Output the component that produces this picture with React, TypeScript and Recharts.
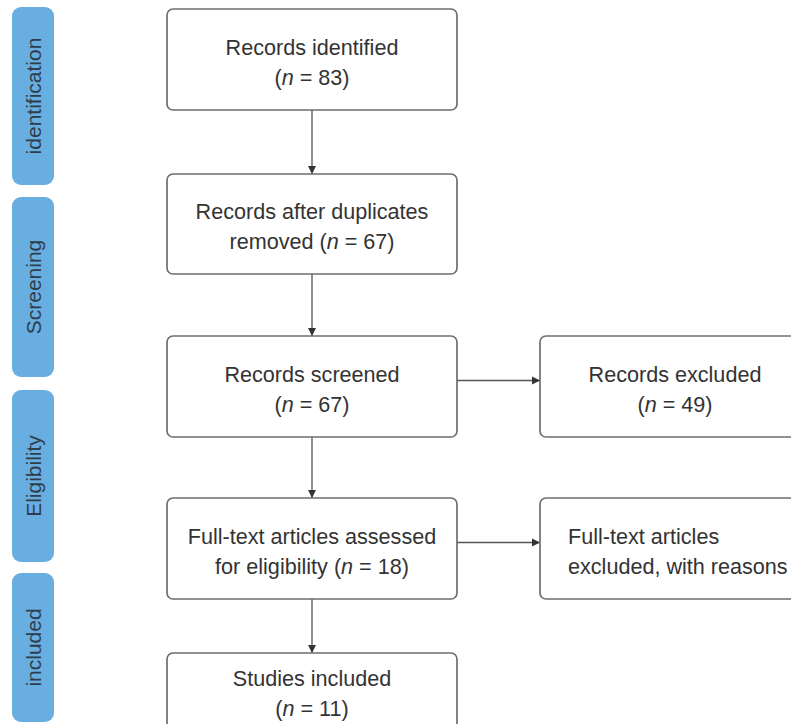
import { Scatter, ScatterChart, XAxis, YAxis } from "recharts";

// flow steps (PRISMA)
const stages = ["identification", "Screening", "Eligibility", "included"];
const mainSteps = [
  "Records identified",
  "Records after duplicates",
  "Records screened",
  "Full-text articles assessed",
  "Studies included",
];
const mainSuffix = ["", "removed ", "", "for eligibility ", ""];
const mainCounts = [83, 67, 67, 18, 11];
const excludedSteps = ["Records excluded", "Full-text articles"];
const excludedSuffix = ["", "excluded, with reasons"];
const excludedCounts: (number | null)[] = [49, null];
const excludedFrom = [2, 3];

// layout (pixels)
const W = 791;
const H = 724;
const FONT = "'Liberation Sans', Arial, Helvetica, sans-serif";
const MAIN_CX = 312;
const MAIN_W = 290;
const SIDE_CX = 33;
const SIDE_W = 42;
const EXCL_LEFT = 540;
const EXCL_W = 270;
const rowTops = [9, 174, 336, 498, 653];
const rowHeights = [101, 100, 101, 101, 75];
const stageSpans = [
  [7, 185],
  [197, 377],
  [390, 562],
  [573, 722],
];

const mainBoxes = mainSteps.map((label, i) => ({
  x: MAIN_CX,
  y: rowTops[i] + rowHeights[i] / 2,
  w: MAIN_W,
  h: rowHeights[i],
  label,
  suffix: mainSuffix[i],
  count: mainCounts[i],
  align: "middle",
}));

const excludedBoxes = excludedSteps.map((label, i) => {
  const from = excludedFrom[i];
  return {
    x: EXCL_LEFT + EXCL_W / 2,
    y: rowTops[from] + rowHeights[from] / 2,
    w: EXCL_W,
    h: rowHeights[from],
    label,
    suffix: excludedSuffix[i],
    count: excludedCounts[i],
    align: i === 1 ? "start" : "middle",
  };
});

const stageBars = stages.map((label, i) => ({
  x: SIDE_CX,
  y: (stageSpans[i][0] + stageSpans[i][1]) / 2,
  h: stageSpans[i][1] - stageSpans[i][0],
  label,
}));

const arrows = [
  ...mainSteps.slice(1).map((_, i) => [
    { x: MAIN_CX, y: rowTops[i] + rowHeights[i] },
    { x: MAIN_CX, y: rowTops[i + 1], head: "down" },
  ]),
  ...excludedFrom.map((from) => {
    const y = rowTops[from] + rowHeights[from] / 2 - 6;
    return [
      { x: MAIN_CX + MAIN_W / 2, y },
      { x: EXCL_LEFT, y, head: "right" },
    ];
  }),
];

const BoxShape = (props: any) => {
  const { cx, cy, payload } = props;
  const { w, h, label, suffix, count, align } = payload;
  const tx = align === "start" ? cx - w / 2 + 28 : cx;
  return (
    <g>
      <rect x={cx - w / 2} y={cy - h / 2} width={w} height={h} rx={6} fill="#fff" stroke="#6e6e6e" strokeWidth={1.7} />
      <text x={tx} y={cy - 5} textAnchor={align} fontSize={21.6} fill="#333" fontFamily={FONT}>
        {label}
      </text>
      <text x={tx} y={cy + 25} textAnchor={align} fontSize={21.6} fill="#333" fontFamily={FONT}>
        {count == null ? (
          suffix
        ) : (
          <>
            <tspan>{suffix}(</tspan>
            <tspan fontStyle="italic">n</tspan>
            <tspan>{` = ${count})`}</tspan>
          </>
        )}
      </text>
    </g>
  );
};

const StageShape = (props: any) => {
  const { cx, cy, payload } = props;
  return (
    <g>
      <rect x={cx - SIDE_W / 2} y={cy - payload.h / 2} width={SIDE_W} height={payload.h} rx={9} fill="#68aee0" />
      <text
        x={cx}
        y={cy}
        transform={`rotate(-90 ${cx} ${cy})`}
        textAnchor="middle"
        dominantBaseline="central"
        fontSize={21}
        fill="#2e3d4c"
        fontFamily={FONT}
      >
        {payload.label}
      </text>
    </g>
  );
};

const ArrowHead = (props: any) => {
  const { cx, cy, payload } = props;
  if (payload.head === "down") {
    return <polygon points={`${cx - 4},${cy - 8} ${cx + 4},${cy - 8} ${cx},${cy}`} fill="#333" />;
  }
  if (payload.head === "right") {
    return <polygon points={`${cx - 8},${cy - 4} ${cx - 8},${cy + 4} ${cx},${cy}`} fill="#333" />;
  }
  return <g />;
};

export default function App() {
  return (
    <div style={{ width: W, height: H, background: "#fff" }}>
      <style>{"body{margin:0}"}</style>
      <ScatterChart width={W} height={H} margin={{ top: 0, right: 0, bottom: 0, left: 0 }}>
        <XAxis type="number" dataKey="x" domain={[0, W]} hide allowDataOverflow />
        <YAxis type="number" dataKey="y" domain={[0, H]} reversed hide allowDataOverflow />
        {arrows.map((pts, i) => (
          <Scatter
            key={`arrow-${i}`}
            data={pts}
            line={{ stroke: "#555", strokeWidth: 1.3 }}
            shape={ArrowHead}
            isAnimationActive={false}
          />
        ))}
        <Scatter data={stageBars} shape={StageShape} isAnimationActive={false} />
        <Scatter data={mainBoxes} shape={BoxShape} isAnimationActive={false} />
        <Scatter data={excludedBoxes} shape={BoxShape} isAnimationActive={false} />
      </ScatterChart>
    </div>
  );
}
